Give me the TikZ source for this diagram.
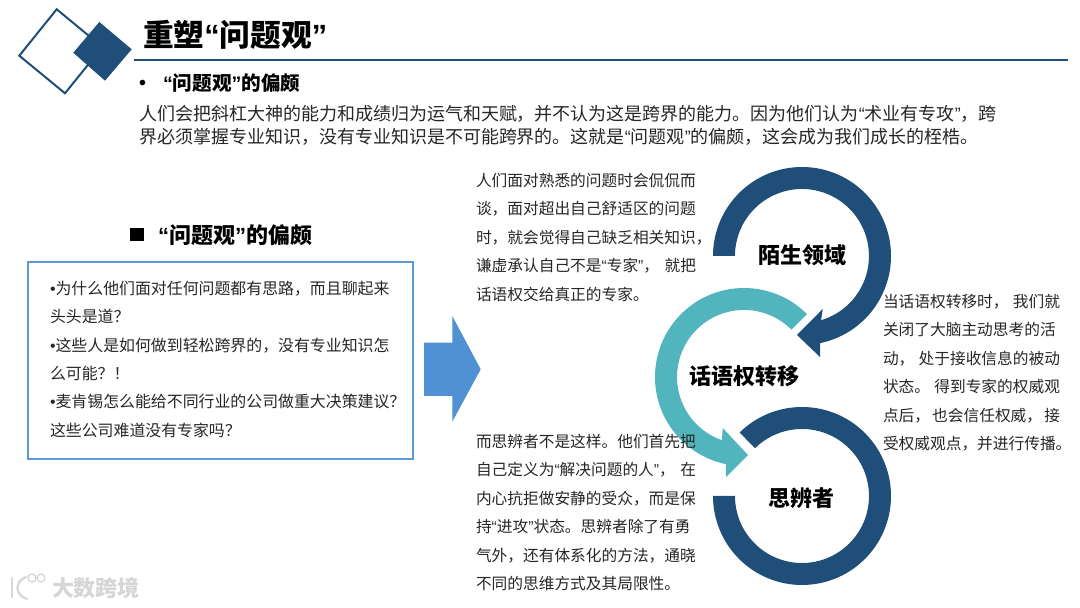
\documentclass[tikz,border=0pt]{standalone}
\usepackage{fontspec}
\setmainfont{Noto Sans CJK SC}
\newfontfamily\latinf{Liberation Sans}
\newcommand{\ql}{{\latinf “}}
\newcommand{\qr}{{\latinf ”}}
\newcommand{\bul}{{\latinf •}}
\newcommand{\Lj}[2]{\makebox[#1pt][s]{#2}}
\definecolor{navy}{HTML}{1F4E79}
\definecolor{tealc}{HTML}{52B5BD}
\definecolor{skyb}{HTML}{5B9BD5}
\definecolor{arrowb}{HTML}{4F91D3}
\definecolor{ink}{HTML}{262626}
\definecolor{wmark}{HTML}{D6D6D6}
\tikzset{
  txt/.style={inner sep=0pt,outer sep=0pt,anchor=north west,align=left,text=ink},
  body/.style={txt,font=\fontsize{18}{23}\selectfont},
  small/.style={txt,font=\fontsize{15.7}{28.45}\selectfont},
  boxt/.style={txt,font=\fontsize{15.9}{28.4}\selectfont},
  head/.style={txt,text=black,font=\fontsize{#1}{#1}\bfseries\selectfont},
  ringlabel/.style={inner sep=0pt,text=black,font=\fontsize{22}{22}\bfseries\selectfont},
}
\begin{document}
\begin{tikzpicture}[x=1pt,y=1pt]
\useasboundingbox (0,0) rectangle (1080,608);
% logo diamonds
\draw[navy,line width=2pt] (19.3,552.3) -- (56.7,598.7) -- (102.4,561) -- (65,514.7) -- cycle;
\fill[navy] (73.3,555.3) -- (99.3,586) -- (131.7,558.7) -- (105,527.3) -- cycle;
% title rule
\draw[navy,line width=2pt] (134,548) -- (1068,548);
% rings
\fill[navy] (802,352) ++(180:89pt) arc[start angle=180,end angle=-78.3,radius=89pt]
  -- (820,251) -- (797,273) -- (822.7,299) -- (821.1,287.8)
  arc[start angle=-73.4,end angle=180,radius=67pt] -- cycle;
\fill[tealc] (744,231) ++(45:89pt) arc[start angle=45,end angle=258.3,radius=89pt]
  -- (726,131) -- (748,153) -- (722.7,180) -- (721.9,167.8)
  arc[start angle=250.7,end angle=45,radius=67pt] -- cycle;
\fill[navy] (802,112) ++(134.5:89pt) arc[start angle=134.5,end angle=-180,radius=89pt]
  -- ++(22pt,0) arc[start angle=-180,end angle=134.5,radius=67pt] -- cycle;
% block arrow
\fill[arrowb] (424,265.3) -- (452.3,265.3) -- (452.3,292) -- (480.7,238.7) -- (452.3,186.3) -- (452.3,212) -- (424,212) -- cycle;
% left box
\node[draw=skyb,line width=2.6pt,inner sep=0pt,minimum width=385pt,minimum height=197pt] (leftbox) at (220.5,247.5) {};
% headings
\node[head=30.7] (title) at (143,587.5) {重塑\ql 问题观\qr};
\node[head=19.6] (bulletA) at (139,528) {\bul};
\node[head=19.6] (headA) at (163,534) {\ql 问题观\qr 的偏颇};
\node[body] (intro) at (139,503) {人们会把斜杠大神的能力和成绩归为运气和天赋，并不认为这是跨界的能力。因为他们认为\ql 术业有专攻\qr ，跨\\界必须掌握专业知识，没有专业知识是不可能跨界的。这就是\ql 问题观\qr 的偏颇，这会成为我们成长的桎梏。};
\fill[black] (130,367) rectangle (144,380);
\node[head=22] (headB) at (158,383) {\ql 问题观\qr 的偏颇};
% box text
\node[boxt] (boxtext) at (50,327) {\bul 为什么他们面对任何问题都有思路，而且聊起来\\头头是道？\\\bul 这些人是如何做到轻松跨界的，没有专业知识怎\\么可能？！\\\bul 麦肯锡怎么能给不同行业的公司做重大决策建议？\\这些公司难道没有专家吗？};
% side text
\node[small] (textA) at (476,435) {人们面对熟悉的问题时会侃侃而\\谈，面对超出自己舒适区的问题\\时，就会觉得自己缺乏相关知识，\\\Lj{220}{谦虚承认自己不是\ql 专家\qr ，\hfill 就把}\\话语权交给真正的专家。};
\node[small] (textB) at (883,314) {\Lj{177}{当话语权转移时，\hfill 我们就}\\\Lj{177}{关闭了大脑主动思考的活}\\\Lj{177}{动，\hfill 处于接收信息的被动}\\\Lj{177}{状态。\hfill 得到专家的权威观}\\\Lj{177}{点后，\hfill 也会信任权威，\hfill 接}\\受权威观点，并进行传播。};
\node[small] (textC) at (476,174) {而思辨者不是这样。他们首先把\\\Lj{220}{自己定义为\ql 解决问题的人\qr ，\hfill 在}\\内心抗拒做安静的受众，而是保\\\Lj{220}{持\ql 进攻\qr 状态。思辨者除了有勇}\\气外，还有体系化的方法，通晓\\不同的思维方式及其局限性。};
% ring labels
\node[ringlabel] (ringA) at (802,353) {陌生领域};
\node[ringlabel] (ringB) at (744,232) {话语权转移};
\node[ringlabel] (ringC) at (801.5,110) {思辨者};
% watermark
\node[txt,text=wmark,font=\fontsize{22}{22}\bfseries\selectfont] (wm) at (52,31) {大数跨境};
\draw[wmark,line width=2.2pt,line cap=round] (12,30) -- (12,11);
\draw[wmark,line width=2.2pt,line cap=round] (26,31) .. controls (15,27) and (14,13) .. (27,9);
\draw[wmark,line width=1.3pt] (32,30) circle[radius=4pt] (41,30) circle[radius=4pt];
\end{tikzpicture}
\end{document}
